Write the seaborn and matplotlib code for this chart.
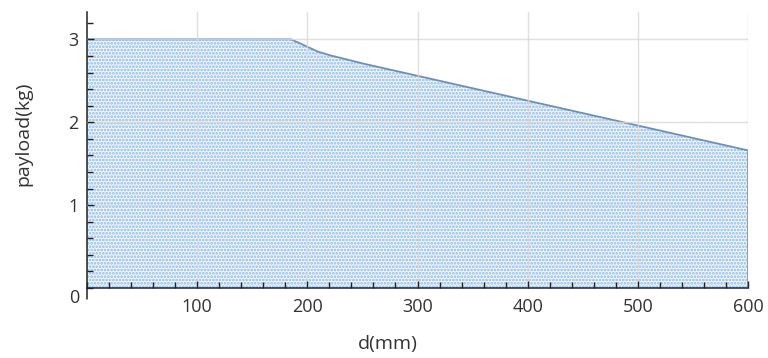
import numpy as np
import matplotlib
matplotlib.use("Agg")
import matplotlib.pyplot as plt
import seaborn as sns
from matplotlib.ticker import MultipleLocator

# payload vs distance
d_mm = [0, 185, 192, 200, 210, 220, 250, 300, 350, 400, 450, 500, 550, 600]
payload_kg = [3.0, 3.0, 2.96, 2.91, 2.85, 2.81, 2.71, 2.56, 2.41, 2.26, 2.11, 1.96, 1.81, 1.66]
x_ticks = [100, 200, 300, 400, 500, 600]
y_ticks = [1, 2, 3]

sns.set_style("white")
plt.rcParams['font.family'] = ['Open Sans', 'DejaVu Sans']
plt.rcParams['hatch.linewidth'] = 1.3

fig = plt.figure(figsize=(7.68, 3.58), dpi=100)
ax = fig.add_axes([0.1133, 0.1955, 0.8607, 0.771])

# Fläche mit Punktmuster (unter Gitter und Achsen)
ax.fill_between(d_mm, 0, payload_kg, facecolor='#f2f7fd', edgecolor='#8ab8e8',
                hatch='.....', linewidth=0, zorder=1)
sns.lineplot(x=d_mm, y=payload_kg, ax=ax, color='#6e8fb8', linewidth=1.3, zorder=1.5)
ax.plot([d_mm[-1], d_mm[-1]], [0, payload_kg[-1]], color='#6e8fb8', linewidth=1.3, zorder=1.5)

ax.set_xlim(0, 600)
ax.set_ylim(0, 3.33)
ax.set_xticks(x_ticks)
ax.set_yticks(y_ticks)
ax.xaxis.set_minor_locator(MultipleLocator(20))
ax.yaxis.set_minor_locator(MultipleLocator(0.2))
ax.tick_params(axis='both', which='both', direction='in', color='#222222', labelsize=13,
               labelcolor='#333333', bottom=True, left=True)
ax.tick_params(axis='both', which='major', length=5, width=1)
ax.tick_params(axis='both', which='minor', length=4, width=1)
ax.tick_params(axis='x', pad=7)
ax.tick_params(axis='y', pad=6)

ax.grid(True, which='major', color='#d8d8d8', linewidth=1, alpha=0.8)
ax.set_axisbelow(False)
for s in ['top', 'right']:
    ax.spines[s].set_visible(False)
for s in ['left', 'bottom']:
    ax.spines[s].set_color('#222222')
    ax.spines[s].set_linewidth(1.1)
# y-Achse etwas unter die Null verlängern
ax.plot([0, 0], [0, -0.13], color='#222222', linewidth=1.1, clip_on=False)

ax.text(-0.012, -0.005, '0', transform=ax.transAxes, ha='right', va='top',
        fontsize=13, color='#333333')
ax.set_xlabel('d(mm)', fontsize=14, color='#333333')
ax.set_ylabel('payload(kg)', fontsize=14, color='#333333')
# Achsentitel wie im Original leicht versetzt
ax.xaxis.set_label_coords(0.455, -0.172)
ax.yaxis.set_label_coords(-0.083, 0.56)

fig.savefig('out.png', dpi=100)
